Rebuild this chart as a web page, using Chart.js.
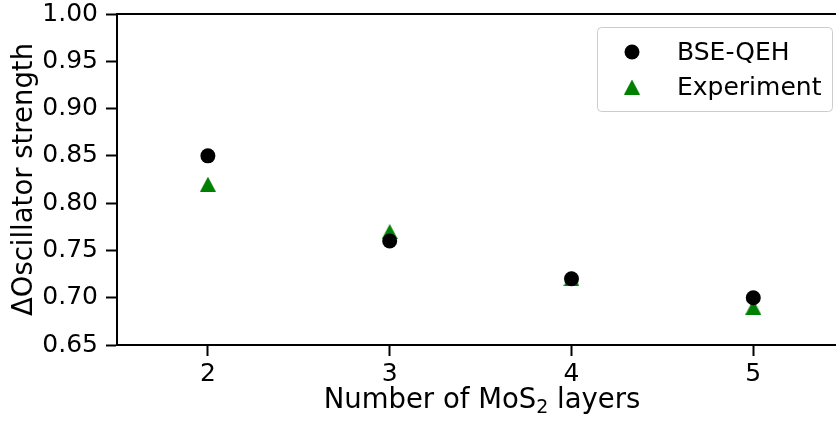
<!DOCTYPE html>
<html>
<head>
<meta charset="utf-8">
<script src="https://cdn.jsdelivr.net/npm/chart.js@4.4.1/dist/chart.umd.min.js"></script>
<style>
  html, body { margin: 0; padding: 0; background: #fff; }
  #wrap { width: 836px; height: 421px; }
</style>
</head>
<body>
<div id="wrap"><canvas id="c" width="836" height="421"></canvas></div>
<script>
// Number of MoS2 layers
const layers = [2, 3, 4, 5];
// Change in oscillator strength
const bseQeh = [0.85, 0.76, 0.72, 0.70];
const experiment = [0.82, 0.77, 0.72, 0.69];
const yTicks = [0.65, 0.70, 0.75, 0.80, 0.85, 0.90, 0.95, 1.00];

const FONT = 'DejaVu Sans';
const TICK_SIZE = 25;
const LABEL_SIZE = 27.5;

const pts = (ys) => layers.map((x, i) => ({ x, y: ys[i] }));

// Upward triangle marker, centred on its bounding box
function triangleMarker(w, h, color) {
  const c = document.createElement('canvas');
  c.width = w; c.height = h;
  const g = c.getContext('2d');
  g.fillStyle = color;
  g.beginPath();
  g.moveTo(w / 2, 0);
  g.lineTo(w, h);
  g.lineTo(0, h);
  g.closePath();
  g.fill();
  return c;
}
const greenTriangle = triangleMarker(16, 15, '#008000');

// Frame line along the top of the plot area
const topSpine = {
  id: 'topSpine',
  afterDraw(chart) {
    const { ctx, chartArea } = chart;
    ctx.save();
    ctx.strokeStyle = '#000';
    ctx.lineWidth = 2;
    ctx.beginPath();
    ctx.moveTo(chartArea.left - 1, chartArea.top);
    ctx.lineTo(chartArea.right, chartArea.top);
    ctx.stroke();
    ctx.restore();
  }
};

// Horizontal axis title with a lowered subscript
const xAxisTitle = {
  id: 'xAxisTitle',
  afterDraw(chart) {
    const { ctx } = chart;
    const parts = [
      { t: 'Number of MoS', size: LABEL_SIZE, dy: 0 },
      { t: '2', size: Math.round(LABEL_SIZE * 0.7), dy: 5 },
      { t: ' layers', size: LABEL_SIZE, dy: 0 }
    ];
    ctx.save();
    ctx.fillStyle = '#000';
    ctx.textBaseline = 'alphabetic';
    ctx.textAlign = 'left';
    let total = 0;
    parts.forEach(p => { ctx.font = p.size + 'px ' + FONT; p.w = ctx.measureText(p.t).width; total += p.w; });
    let x = 482 - total / 2;
    const base = 408;
    parts.forEach(p => {
      ctx.font = p.size + 'px ' + FONT;
      ctx.fillText(p.t, x, base + p.dy);
      x += p.w;
    });
    ctx.restore();
  }
};

// Legend box drawn inside the plot, upper right
const insideLegend = {
  id: 'insideLegend',
  afterDraw(chart) {
    const { ctx } = chart;
    const x = 597, y = 27, w = 235, h = 84, r = 4;
    ctx.save();
    ctx.fillStyle = 'rgba(255,255,255,0.85)';
    ctx.strokeStyle = '#cccccc';
    ctx.lineWidth = 1;
    ctx.beginPath();
    ctx.roundRect(x + 0.5, y + 0.5, w, h, r);
    ctx.fill();
    ctx.stroke();
    chart.data.datasets.forEach((ds, i) => {
      const cy = 52 + i * 35;
      Chart.helpers.drawPoint(ctx, {
        pointStyle: ds.pointStyle,
        radius: ds.pointRadius,
        borderWidth: 0,
        rotation: 0
      }, 632, cy);
      if (ds.pointStyle === 'circle') {
        ctx.fillStyle = ds.pointBackgroundColor;
        ctx.beginPath();
        ctx.arc(632, cy, ds.pointRadius, 0, Math.PI * 2);
        ctx.fill();
      }
      ctx.fillStyle = '#000';
      ctx.font = TICK_SIZE + 'px ' + FONT;
      ctx.textAlign = 'left';
      ctx.textBaseline = 'middle';
      ctx.fillText(ds.label, 677, cy + 1);
    });
    ctx.restore();
  }
};

new Chart(document.getElementById('c'), {
  type: 'scatter',
  data: {
    datasets: [
      {
        label: 'BSE-QEH',
        data: pts(bseQeh),
        pointStyle: 'circle',
        pointRadius: 7.5,
        pointHoverRadius: 7.5,
        pointBackgroundColor: '#000000',
        pointBorderWidth: 0,
        borderColor: '#000000'
      },
      {
        label: 'Experiment',
        data: pts(experiment),
        pointStyle: greenTriangle,
        pointRadius: 8,
        pointHoverRadius: 8,
        pointBackgroundColor: '#008000',
        pointBorderWidth: 0,
        borderColor: '#008000'
      }
    ]
  },
  options: {
    responsive: false,
    animation: false,
    layout: { autoPadding: false, padding: { top: 14, right: 0, left: 0, bottom: 0 } },
    plugins: {
      legend: { display: false },
      tooltip: { enabled: false }
    },
    scales: {
      x: {
        type: 'linear',
        min: 1.5,
        max: 5.455,
        afterBuildTicks: (s) => { s.ticks = layers.map(v => ({ value: v })); },
        afterFit: (s) => { s.height = 76; s.paddingLeft = 0; s.paddingRight = 0; },
        border: { display: true, color: '#000', width: 2 },
        grid: { drawOnChartArea: false, tickLength: 11, tickWidth: 2, tickColor: '#000' },
        ticks: { color: '#000', font: { family: FONT, size: TICK_SIZE }, padding: 3, maxRotation: 0 },
        title: { display: false }
      },
      y: {
        min: 0.65,
        max: 1.0,
        afterBuildTicks: (s) => { s.ticks = yTicks.map(v => ({ value: v })); },
        afterFit: (s) => { s.width = 117; s.paddingTop = 0; s.paddingBottom = 0; },
        border: { display: true, color: '#000', width: 2 },
        grid: { drawOnChartArea: false, tickLength: 11, tickWidth: 2, tickColor: '#000' },
        ticks: {
          color: '#000',
          font: { family: FONT, size: TICK_SIZE },
          padding: 8,
          callback: (v) => Number(v).toFixed(2)
        },
        title: {
          display: true,
          text: '\u0394Oscillator strength',
          color: '#000',
          font: { family: FONT, size: LABEL_SIZE },
          padding: { top: 8, bottom: 0 }
        }
      }
    }
  },
  plugins: [topSpine, xAxisTitle, insideLegend]
});
</script>
</body>
</html>
